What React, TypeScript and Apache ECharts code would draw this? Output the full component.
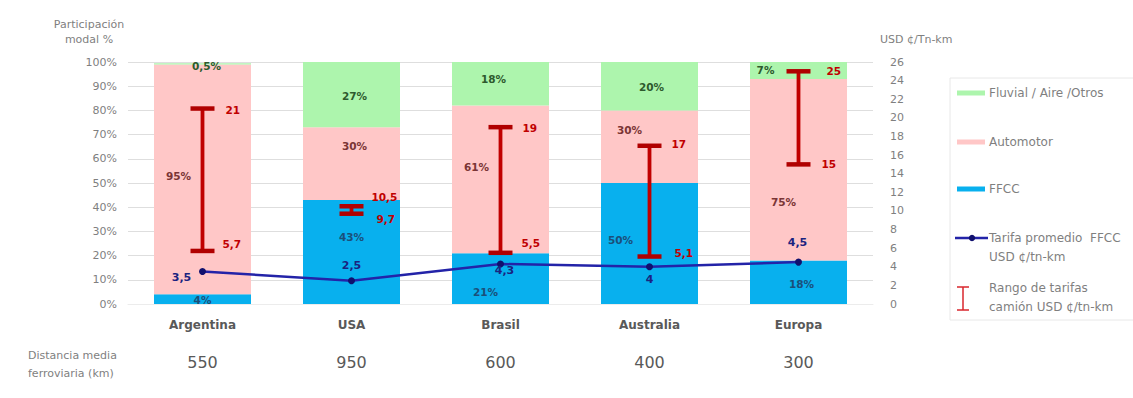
import React, { useEffect, useRef } from "react";
import * as echarts from "echarts";

// Modal share (%) by country, stacked bottom to top
const categories = ["Argentina", "USA", "Brasil", "Australia", "Europa"];
const distanciaKm = [550, 950, 600, 400, 300];
const ffccShare = [4, 43, 21, 50, 18];
const automotorShare = [95, 30, 61, 30, 75];
const fluvialShare = [0.5, 27, 18, 20, 7];

// Average rail tariff and truck tariff range (USD ¢/tn-km)
const tarifaFfcc = [3.5, 2.5, 4.3, 4, 4.5];
const camionMin = [5.7, 9.7, 5.5, 5.1, 15];
const camionMax = [21, 10.5, 19, 17, 25];

// Label nudges (px) so the value labels sit where they read best
const ffccLabelNudge = [[0, 1], [0, -15], [-15, 13], [-29, -4], [3, 2]];
const autoLabelNudge = [[-24, -3], [3, -18], [-24, -12], [-20, -17], [-15, 32]];
const fluvialLabelNudge = [[4, 2], [3, 1], [-7, -5], [2, 1], [-33, 0]];
const tarifaLabelNudge = [[-21, 20.5], [0, -1.5], [4, 20.5], [0, 26.5], [-1, -5.5]];
const rangeTopNudge = [[23, 1], [20, -9], [22, 1], [22, -2], [28, 0]];
const rangeBottomNudge = [[20, -7], [25, 5], [21, -10], [25, -4], [23, 0]];

const FONT = '"DejaVu Sans", "Liberation Sans", sans-serif';
const GREY = "#7f7f7f";
const DARK_GREY = "#595959";
const GREEN = "#adf5ad";
const PINK = "#ffc7c7";
const BLUE = "#08b0ee";
const NAVY = "#2323a8";
const RED = "#c00000";

const comma = (v: number) => String(v).replace(".", ",");

function shareSeries(name: string, values: number[], nudges: number[][], color: string, labelColor: string) {
  return {
    name,
    type: "bar",
    stack: "share",
    barWidth: 97,
    itemStyle: { color },
    label: {
      show: true,
      position: "inside",
      formatter: (p: any) => comma(p.value) + "%",
      color: labelColor,
      fontSize: 10.5,
      fontWeight: "bold",
      fontFamily: FONT,
    },
    data: values.map((v, i) => ({ value: v, label: { offset: nudges[i] } })),
    emphasis: { disabled: true },
  };
}

export default function App() {
  const ref = useRef<HTMLDivElement>(null);

  useEffect(() => {
    if (!ref.current) return;
    const chart = echarts.init(ref.current, null, { renderer: "svg" });

    const rangeData = categories.map((_, i) => [i, camionMin[i], camionMax[i]]);

    const option: any = {
      animation: false,
      backgroundColor: "#ffffff",
      grid: { left: 128, right: 260, top: 62, height: 242 },
      xAxis: [
        {
          type: "category",
          data: categories,
          axisLine: { show: false },
          axisTick: { show: false },
          axisLabel: { color: DARK_GREY, fontSize: 12, fontWeight: "bold", fontFamily: FONT, margin: 15 },
        },
        {
          type: "category",
          position: "bottom",
          offset: 39,
          data: distanciaKm.map(String),
          axisLine: { show: true, lineStyle: { color: "#ececec", width: 1 } },
          axisTick: { show: false },
          axisLabel: { color: DARK_GREY, fontSize: 16, fontFamily: FONT, margin: 11 },
        },
      ],
      yAxis: [
        {
          type: "value",
          min: 0,
          max: 100,
          interval: 10,
          axisLine: { show: false },
          axisTick: { show: false },
          axisLabel: { formatter: "{value}%", color: GREY, fontSize: 11, fontFamily: FONT, margin: 11 },
          splitLine: { lineStyle: { color: "#dedede", width: 1 } },
        },
        {
          type: "value",
          position: "right",
          min: 0,
          max: 26,
          interval: 2,
          axisLine: { show: false },
          axisTick: { show: false },
          axisLabel: { color: GREY, fontSize: 11, fontFamily: FONT, margin: 17 },
          splitLine: { show: false },
        },
      ],
      series: [
        shareSeries("FFCC", ffccShare, ffccLabelNudge, BLUE, "#1b4f7a"),
        shareSeries("Automotor", automotorShare, autoLabelNudge, PINK, "#7a3535"),
        shareSeries("Fluvial / Aire /Otros", fluvialShare, fluvialLabelNudge, GREEN, "#2d5a2d"),
        {
          name: "Rango de tarifas camión USD ¢/tn-km",
          type: "custom",
          xAxisIndex: 0,
          yAxisIndex: 1,
          z: 5,
          data: rangeData,
          renderItem: (params: any, api: any) => {
            const i = api.value(0);
            const lo = api.value(1);
            const hi = api.value(2);
            const top = api.coord([i, hi]);
            const bot = api.coord([i, lo]);
            const hw = 12;
            const tn = rangeTopNudge[i];
            const bn = rangeBottomNudge[i];
            const textStyle = (txt: string) => ({
              text: txt,
              fill: RED,
              fontSize: 10.5,
              fontWeight: "bold",
              fontFamily: FONT,
              align: "left",
              verticalAlign: "middle",
            });
            return {
              type: "group",
              children: [
                { type: "line", shape: { x1: top[0], y1: top[1], x2: bot[0], y2: bot[1] }, style: { stroke: RED, lineWidth: 3.8 } },
                { type: "line", shape: { x1: top[0] - hw, y1: top[1], x2: top[0] + hw, y2: top[1] }, style: { stroke: "#b00000", lineWidth: 4.5 } },
                { type: "line", shape: { x1: bot[0] - hw, y1: bot[1], x2: bot[0] + hw, y2: bot[1] }, style: { stroke: "#b00000", lineWidth: 4.5 } },
                { type: "text", x: top[0] + tn[0], y: top[1] + tn[1], style: textStyle(comma(hi)) },
                { type: "text", x: bot[0] + bn[0], y: bot[1] + bn[1], style: textStyle(comma(lo)) },
              ],
            };
          },
        },
        {
          name: "Tarifa promedio FFCC USD ¢/tn-km",
          type: "line",
          xAxisIndex: 0,
          yAxisIndex: 1,
          z: 6,
          symbol: "circle",
          symbolSize: 7,
          lineStyle: { color: NAVY, width: 2.5 },
          itemStyle: { color: "#10106e" },
          label: {
            show: true,
            position: "top",
            formatter: (p: any) => comma(p.value),
            color: "#1a2380",
            fontSize: 11,
            fontWeight: "bold",
            fontFamily: FONT,
          },
          data: tarifaFfcc.map((v, i) => ({ value: v, label: { offset: tarifaLabelNudge[i] } })),
          emphasis: { disabled: true },
        },
      ],
      graphic: [
        {
          type: "text",
          x: 89,
          y: 17,
          style: {
            text: "Participación\nmodal %",
            fill: GREY,
            fontSize: 11,
            fontFamily: FONT,
            lineHeight: 15,
            align: "center",
            textAlign: "center",
          },
        },
        {
          type: "text",
          x: 880,
          y: 34,
          style: { text: "USD ¢/Tn-km", fill: GREY, fontSize: 11, fontFamily: FONT },
        },
        {
          type: "text",
          x: 28,
          y: 346,
          style: {
            text: "Distancia media\nferroviaria (km)",
            fill: GREY,
            fontSize: 11,
            fontFamily: FONT,
            lineHeight: 18,
          },
        },
        // Legend panel
        {
          type: "rect",
          shape: { x: 950, y: 78, width: 200, height: 242 },
          style: { fill: "#ffffff", stroke: "#e8e8e8", lineWidth: 1 },
        },
        { type: "rect", shape: { x: 957, y: 90.5, width: 28, height: 5 }, style: { fill: GREEN } },
        { type: "rect", shape: { x: 957, y: 139.5, width: 28, height: 5 }, style: { fill: PINK } },
        { type: "rect", shape: { x: 957, y: 186.5, width: 28, height: 5 }, style: { fill: BLUE } },
        { type: "line", shape: { x1: 955, y1: 238, x2: 988, y2: 238 }, style: { stroke: NAVY, lineWidth: 2.5 } },
        { type: "circle", shape: { cx: 972, cy: 238, r: 3.2 }, style: { fill: "#10106e" } },
        { type: "line", shape: { x1: 963, y1: 287, x2: 963, y2: 310 }, style: { stroke: "#d9262c", lineWidth: 1.5 } },
        { type: "line", shape: { x1: 957, y1: 287, x2: 969, y2: 287 }, style: { stroke: "#d9262c", lineWidth: 1.5 } },
        { type: "line", shape: { x1: 957, y1: 310, x2: 969, y2: 310 }, style: { stroke: "#d9262c", lineWidth: 1.5 } },
        ...[
          { t: "Fluvial / Aire /Otros", y: 93 },
          { t: "Automotor", y: 142 },
          { t: "FFCC", y: 189 },
          { t: "Tarifa promedio  FFCC", y: 238 },
          { t: "USD ¢/tn-km", y: 257 },
          { t: "Rango de tarifas", y: 288 },
          { t: "camión USD ¢/tn-km", y: 307 },
        ].map((it) => ({
          type: "text",
          x: 989,
          y: it.y,
          style: {
            text: it.t,
            fill: GREY,
            fontSize: 12,
            fontFamily: FONT,
            verticalAlign: "middle",
            textVerticalAlign: "middle",
          },
        })),
      ],
    };

    chart.setOption(option);
    return () => chart.dispose();
  }, []);

  return (
    <div
      ref={ref}
      style={{ position: "fixed", left: 0, top: 0, width: 1133, height: 398, background: "#fff" }}
    />
  );
}
